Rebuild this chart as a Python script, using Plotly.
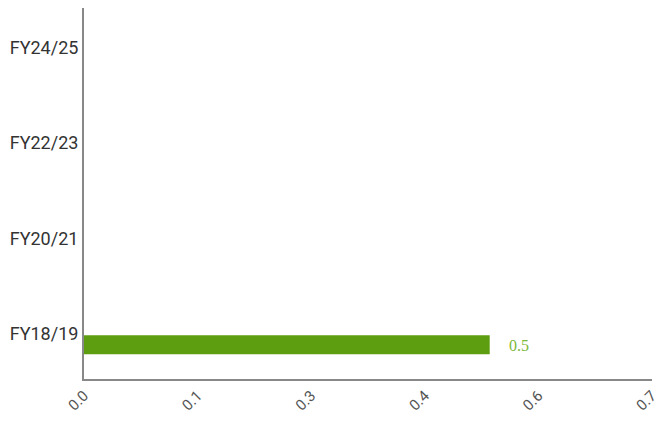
import plotly.graph_objects as go

# Données
categories = ["FY18/19", "FY20/21", "FY22/23", "FY24/25"]
values = [0.5, None, None, None]
x_tickvals = [0, 0.14, 0.28, 0.42, 0.56, 0.7]
x_ticktext = [f"{v:.1f}" for v in x_tickvals]

bar_color = "#5c9e0f"
label_color = "#7cb83a"

fig = go.Figure()
fig.add_trace(go.Bar(
    y=categories, x=values, orientation="h",
    marker=dict(color=bar_color, line=dict(width=0)),
    width=0.2, offset=-0.22,
    showlegend=False, hoverinfo="x+y",
))

# étiquette de valeur à droite de la barre
for cat, v in zip(categories, values):
    if v is not None:
        fig.add_annotation(
            x=v, y=cat, text=f"{v:.1f}", showarrow=False,
            xanchor="left", xshift=17, yshift=-12,
            font=dict(family="Liberation Serif, serif", size=16, color=label_color),
        )

# la page html ajoute une marge de 8 px : figure un peu plus petite que la fenêtre
fig.update_layout(
    width=649, height=407,
    margin=dict(l=76, r=5, t=0, b=36),
    plot_bgcolor="white", paper_bgcolor="white",
    font=dict(family="Roboto, sans-serif", size=18, color="#333"),
    xaxis=dict(
        range=[0, 0.7], tickvals=x_tickvals, ticktext=x_ticktext,
        tickangle=-45, showgrid=False, zeroline=False, automargin=False,
        showline=True, linecolor="#888", linewidth=2,
        ticks="", tickfont=dict(size=15, color="#555"),
        ticklabeloverflow="allow",
    ),
    yaxis=dict(
        categoryorder="array", categoryarray=categories,
        range=[-0.48, 3.42], showgrid=False, zeroline=False, automargin=False,
        showline=True, linecolor="#888", linewidth=2,
        ticks="", tickfont=dict(size=18, color="#333"),
    ),
)

fig.write_html("out.html")
